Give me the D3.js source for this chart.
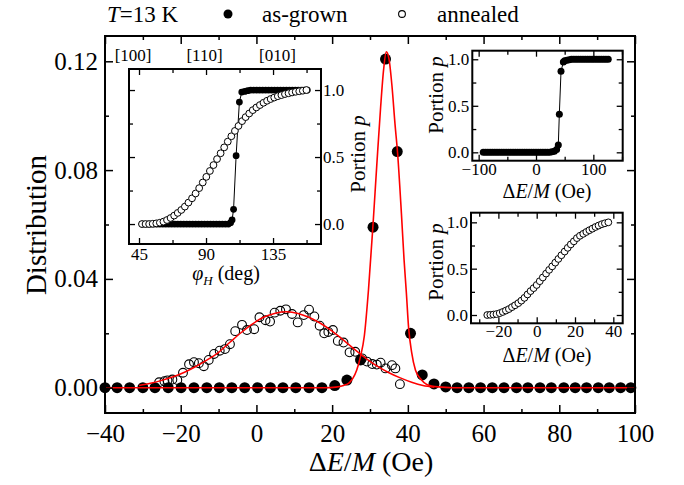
<!DOCTYPE html>
<html>
<head>
<meta charset="utf-8">
<script src="https://cdn.jsdelivr.net/npm/d3@7/dist/d3.min.js"></script>
<style>
  body { margin: 0; background: #fff; }
  svg { font-family: "Liberation Serif", "Times New Roman", serif; }
</style>
</head>
<body>
<svg id="chart" width="684" height="485"></svg>
<script>
var width = 684, height = 485;

// main plot: distribution vs dE/M
var grownX = [-40,-36.8,-33.5,-30.0,-26.8,-23.3,-19.9,-16.5,-13.1,-9.8,-6.5,-3.1,0.3,3.7,7.0,10.4,13.9,17.3,
  20.7,23.9,27.5,30.8,34.1,37.2,40.7,43.8,46.9,50.0,53.0,56.1,59.2,62.3,65.4,68.7,71.7,74.9,77.9,81.2,
  84.2,87.2,90.3,93.2,96.2,98.9];
var grownY = [0,0,0,0,0,0,0,0,0,0,0,0,0,0,0,0,0,0,
  0.0008,0.0028,0.0102,0.059,0.1208,0.0868,0.020,0.0047,0.0014,0.0003,0,0,0,0,0,0,0,0,0,0,
  0,0,0,0,0,0];

var annX = [-25.7,-24.3,-23.5,-22.2,-20.9,-19.4,-17.8,-16.5,-15.2,-13.9,-12.6,-11.2,-9.7,-8.3,-7.0,-5.6,
  -3.8,-2.5,-0.6,0.8,2.4,3.6,4.8,6.3,7.8,9.4,10.9,12.5,13.9,15.3,16.7,17.9,19.0,20.2,21.5,23.0,24.6,
  26.1,27.9,29.2,30.6,31.8,32.8,34.1,35.8,36.7,37.9];
var annY = [0.0020,0.0024,0.0027,0.0030,0.0028,0.0055,0.0086,0.0094,0.0090,0.0079,0.0102,0.0124,0.0136,
  0.0142,0.0160,0.0208,0.0231,0.0212,0.0215,0.0259,0.0248,0.0243,0.0276,0.0283,0.0288,0.0271,0.0240,
  0.0267,0.0287,0.0262,0.0228,0.0200,0.0205,0.0212,0.0172,0.0166,0.0130,0.0132,0.0108,0.0096,0.0087,
  0.0085,0.0092,0.0071,0.0083,0.0071,0.0013];

var grownFitX = [-40,18,21,23,24.5,25.5,26.5,27.5,28.5,29.6,30.8,31.8,32.8,33.6,34.3,35.0,35.8,36.6,37.3,
  38.3,39.0,39.6,40.2,41.0,42.0,43.5,45.0,48.0,52,100];
var grownFitY = [0,0,0.0002,0.0008,0.0018,0.0035,0.0065,0.0115,0.019,0.036,0.060,0.082,0.103,0.117,0.1235,
  0.121,0.111,0.097,0.086,0.064,0.047,0.035,0.022,0.013,0.0065,0.003,0.0012,0.0003,0,0];

var annFitX = [-31,-28,-25,-22,-19,-16,-13,-10,-7,-4,-1,2,5,8,11,14,17,20,23,26,29,32,35,38,41,44,47];
var annFitY = [0.0008,0.0016,0.0027,0.0040,0.0057,0.0078,0.0102,0.0130,0.0167,0.0203,0.0235,0.0260,0.0274,
  0.0279,0.0273,0.0258,0.0236,0.0208,0.0175,0.0140,0.0107,0.0078,0.0055,0.0036,0.0020,0.0008,0.0002];

var mainXTicks = [-40,-20,0,20,40,60,80,100];
var mainYTicks = [0,0.04,0.08,0.12];

// inset 1: portion p vs phi_H
var phiGrownX = [47,49,51,53,55,57,59,61,63,65,67,69,71,73,75,77,79,81,83,85,87,89,91,93,95,97,99,101,103,105,
  106.5,107.5,108.5,110.2,112.4,114,116,118,120,122,124,126,128,130,132,134,136,138,140,142,144,146,148,150,
  152,154,156,158];
var phiGrownY = [0,0,0,0,0,0,0,0,0,0,0,0,0,0,0,0,0,0,0,0,0,0,0,0,0,0,0,0,0,0,
  0.01,0.03,0.11,0.51,0.91,0.985,0.99,0.995,1,1,1,1,1,1,1,1,1,1,1,1,1,1,1,1,
  1,1,1,1];
var phiAnnX = [47,49.4,51.8,54.2,56.6,59.0,61.4,63.8,66.2,68.6,71.0,73.4,75.8,78.2,80.6,83.0,85.4,87.8,90.2,
  92.6,95.0,97.4,99.8,102.2,104.6,107.0,109.4,111.8,114.2,116.6,119.0,121.4,123.8,126.2,128.6,131.0,133.4,
  135.8,138.2,140.6,143.0,145.4,147.8,150.2,152.6,155.0,157.4];
var phiAnnY = [0,0,0,0.002,0.005,0.010,0.018,0.030,0.045,0.063,0.083,0.105,0.130,0.160,0.192,0.228,0.268,
  0.310,0.352,0.396,0.440,0.485,0.528,0.572,0.615,0.655,0.695,0.732,0.768,0.798,0.825,0.850,0.870,0.888,
  0.905,0.920,0.933,0.944,0.954,0.962,0.970,0.976,0.982,0.987,0.991,0.995,1.0];
var phiTicks = [45,90,135];
var phiDirs = ["[100]","[110]","[010]"];
var phiDirPos = [41,89,138];

// inset 2: portion p vs dE/M, as-grown
var cumGrownX = [-92,-88,-84,-80,-76,-72,-68,-64,-60,-56,-52,-48,-44,-40,-36,-32,-28,-24,-20,-16,-12,-8,-4,
  0,4,8,12,16,20,24,28,32,36,38.9,40.7,43.6,47.7,50,54,58,62,66,70,74,78,82,86,90,94,98,102,106,110,114,118,
  122,126];
var cumGrownY = [0,0,0,0,0,0,0,0,0,0,0,0,0,0,0,0,0,0,0,0,0,0,0,0,0,0,0,0,0,0.002,0.006,0.012,0.03,0.078,
  0.41,0.87,0.97,0.985,0.99,0.995,1,1,1,1,1,1,1,1,1,1,1,1,1,1,1,1,1];

// inset 3: portion p vs dE/M, annealed
var cumAnnX = [-25.8,-24.2,-22.6,-21.0,-19.3,-17.7,-16.1,-14.5,-12.9,-11.3,-9.6,-8.0,-6.4,-4.8,-3.2,-1.6,
  0.0,1.6,3.2,4.9,6.5,8.1,9.7,11.3,12.9,14.6,16.2,17.8,19.4,21.0,22.6,24.3,25.9,27.5,29.1,30.7,32.3,34.0,
  35.6,37.4];
var cumAnnY = [0.000,0.002,0.005,0.010,0.020,0.033,0.048,0.064,0.085,0.105,0.128,0.155,0.185,0.222,0.258,
  0.290,0.324,0.365,0.405,0.447,0.487,0.525,0.565,0.605,0.645,0.685,0.725,0.762,0.795,0.830,0.855,0.876,
  0.896,0.915,0.932,0.950,0.965,0.980,0.990,1.000];

var pTicks = [0,0.5,1];

var svg = d3.select('#chart');

function zip(xs, ys){ return xs.map((x,i) => [x, ys[i]]); }

// frame with inward ticks on all four sides
function frame(g, x, y, o){
  var x0 = x.range()[0], x1 = x.range()[1], y0 = y.range()[0], y1 = y.range()[1];
  var axes = [
    [d3.axisBottom, x, y0, 'x', o.xMajor, o.xMinor, o.xLabels],
    [d3.axisTop, x, y1, 'x', o.xMajor, o.xMinor, false],
    [d3.axisLeft, y, x0, 'y', o.yMajor, o.yMinor, o.yLabelSide == 'left'],
    [d3.axisRight, y, x1, 'y', o.yMajor, o.yMinor, o.yLabelSide == 'right']
  ];
  axes.forEach(a => {
    var tr = a[3] == 'x' ? 'translate(0,' + a[2] + ')' : 'translate(' + a[2] + ',0)';
    var gm = g.append('g').attr('transform', tr)
      .call(a[0](a[1]).tickValues(a[5]).tickSize(-o.minorLen).tickFormat(''));
    gm.select('.domain').remove();
    var ga = g.append('g').attr('transform', tr)
      .call(a[0](a[1]).tickValues(a[4]).tickSize(-o.majorLen).tickPadding(a[3] == 'x' ? o.xPad : o.yPad)
        .tickFormat(a[6] ? o[a[3] + 'Fmt'] : ''));
    ga.select('.domain').remove();
    g.selectAll('.tick line').attr('stroke', '#000').attr('stroke-width', o.tickW);
    ga.selectAll('text').attr('fill', '#000').style('font-size', o.fontSize + 'px')
      .style('font-family', '"Liberation Serif", serif');
  });
  g.append('rect').attr('x', x0).attr('y', y1).attr('width', x1 - x0).attr('height', y0 - y1)
    .attr('fill', 'none').attr('stroke', '#000').attr('stroke-width', o.frameW);
}

// ---------- main plot ----------
var x = d3.scaleLinear().domain([-40, 100]).range([105, 635]);
var y = d3.scaleLinear().domain([-0.0093, 0.1293]).range([413, 36]);
var main = svg.append('g');

main.append('g').selectAll('circle').data(zip(grownX, grownY)).enter().append('circle')
  .attr('cx', d => x(d[0])).attr('cy', d => y(d[1])).attr('r', 5.5).attr('fill', '#000');
main.append('g').selectAll('circle').data(zip(annX, annY)).enter().append('circle')
  .attr('cx', d => x(d[0])).attr('cy', d => y(d[1])).attr('r', 4.4)
  .attr('fill', 'none').attr('stroke', '#000').attr('stroke-width', 1.1);

var fitLine = d3.line().x(d => x(d[0])).y(d => y(d[1])).curve(d3.curveMonotoneX);
main.append('path').datum(zip(annFitX, annFitY)).attr('d', fitLine)
  .attr('fill', 'none').attr('stroke', '#ff0000').attr('stroke-width', 1.5);
main.append('path').datum(zip(grownFitX, grownFitY)).attr('d', fitLine)
  .attr('fill', 'none').attr('stroke', '#ff0000').attr('stroke-width', 1.6);

frame(main, x, y, {
  xMajor: mainXTicks, xMinor: [-30,-10,10,30,50,70,90], yMajor: mainYTicks, yMinor: [0.02,0.06,0.10],
  xLabels: true, yLabelSide: 'left', xFmt: d3.format('d'), yFmt: d3.format('.2f'),
  majorLen: 8, minorLen: 4, xPad: 11, yPad: 7, fontSize: 25, tickW: 1.5, frameW: 2
});

main.append('text').attr('transform', 'translate(46,225) rotate(-90)').attr('text-anchor', 'middle')
  .style('font-size', '29px').text('Distribution');
var xl = main.append('text').attr('x', 371).attr('y', 471).attr('text-anchor', 'middle').style('font-size', '28px');
xl.append('tspan').text('\u0394');
xl.append('tspan').style('font-style', 'italic').text('E');
xl.append('tspan').text('/');
xl.append('tspan').style('font-style', 'italic').text('M');
xl.append('tspan').text(' (Oe)');

// legend
var lg = svg.append('g').style('font-size', '23px');
var lt = lg.append('text').attr('x', 107).attr('y', 22);
lt.append('tspan').style('font-style', 'italic').text('T');
lt.append('tspan').text('=13 K');
lg.append('circle').attr('cx', 228).attr('cy', 14).attr('r', 4.5).attr('fill', '#000');
lg.append('text').attr('x', 262).attr('y', 22).text('as-grown');
lg.append('circle').attr('cx', 402).attr('cy', 14).attr('r', 3.4).attr('fill', 'none')
  .attr('stroke', '#000').attr('stroke-width', 1.1);
lg.append('text').attr('x', 437).attr('y', 22).text('annealed');

// ---------- inset 1 ----------
var x1 = d3.scaleLinear().domain([38.28, 167.2]).range([129, 321]);
var y1 = d3.scaleLinear().domain([-0.149, 1.157]).range([244, 69]);
var in1 = svg.append('g');
in1.append('rect').attr('x', 129).attr('y', 69).attr('width', 192).attr('height', 175).attr('fill', '#fff');
var ln1 = d3.line().x(d => x1(d[0])).y(d => y1(d[1]));
in1.append('path').datum(zip(phiGrownX, phiGrownY)).attr('d', ln1)
  .attr('fill', 'none').attr('stroke', '#000').attr('stroke-width', 1);
in1.append('g').selectAll('circle').data(zip(phiGrownX, phiGrownY)).enter().append('circle')
  .attr('cx', d => x1(d[0])).attr('cy', d => y1(d[1])).attr('r', 3.4).attr('fill', '#000');
in1.append('g').selectAll('circle').data(zip(phiAnnX, phiAnnY)).enter().append('circle')
  .attr('cx', d => x1(d[0])).attr('cy', d => y1(d[1])).attr('r', 3.4)
  .attr('fill', '#fff').attr('stroke', '#000').attr('stroke-width', 1);
frame(in1, x1, y1, {
  xMajor: phiTicks, xMinor: [67.5,112.5,157.5], yMajor: pTicks, yMinor: [0.25,0.75],
  xLabels: true, yLabelSide: 'right', xFmt: d3.format('d'), yFmt: d3.format('.1f'),
  majorLen: 6, minorLen: 4, xPad: 4, yPad: 2, fontSize: 17, tickW: 1.3, frameW: 2
});
in1.append('g').selectAll('text').data(phiDirs).enter().append('text')
  .attr('x', (d,i) => x1(phiDirPos[i])).attr('y', 61).attr('text-anchor', 'middle')
  .style('font-size', '17px').text(d => d);
var pl = in1.append('text').attr('x', 226).attr('y', 280).attr('text-anchor', 'middle').style('font-size', '20px');
pl.append('tspan').style('font-style', 'italic').text('\u03c6');
pl.append('tspan').style('font-style', 'italic').style('font-size', '13px').attr('dy', 5).text('H');
pl.append('tspan').attr('dy', -5).text(' (deg)');

function portionLabel(g, px, py){
  var t = g.append('text').attr('transform', 'translate(' + px + ',' + py + ') rotate(-90)')
    .attr('text-anchor', 'middle').style('font-size', '21px');
  t.append('tspan').text('Portion ');
  t.append('tspan').style('font-style', 'italic').text('p');
}
portionLabel(in1, 365, 154);

function eLabel(g, px, py){
  var t = g.append('text').attr('x', px).attr('y', py).attr('text-anchor', 'middle').style('font-size', '20px');
  t.append('tspan').text('\u0394');
  t.append('tspan').style('font-style', 'italic').text('E');
  t.append('tspan').text('/');
  t.append('tspan').style('font-style', 'italic').text('M');
  t.append('tspan').text(' (Oe)');
}

// ---------- inset 2 ----------
var x2 = d3.scaleLinear().domain([-111.1, 151.2]).range([472.3, 622.7]);
var y2 = d3.scaleLinear().domain([-0.090, 1.092]).range([160.7, 50.7]);
var in2 = svg.append('g');
in2.append('rect').attr('x', 472.3).attr('y', 50.7).attr('width', 150.4).attr('height', 110).attr('fill', '#fff');
var ln2 = d3.line().x(d => x2(d[0])).y(d => y2(d[1]));
in2.append('path').datum(zip(cumGrownX, cumGrownY)).attr('d', ln2)
  .attr('fill', 'none').attr('stroke', '#000').attr('stroke-width', 1);
in2.append('g').selectAll('circle').data(zip(cumGrownX, cumGrownY)).enter().append('circle')
  .attr('cx', d => x2(d[0])).attr('cy', d => y2(d[1])).attr('r', 3.5).attr('fill', '#000');
frame(in2, x2, y2, {
  xMajor: [-100,0,100], xMinor: [-50,50,150], yMajor: pTicks, yMinor: [0.25,0.75],
  xLabels: true, yLabelSide: 'left', xFmt: d3.format('d'), yFmt: d3.format('.1f'),
  majorLen: 6, minorLen: 4, xPad: 2, yPad: 3, fontSize: 17, tickW: 1.3, frameW: 2
});
portionLabel(in2, 443, 95);
eLabel(in2, 547, 198);

// ---------- inset 3 ----------
var x3 = d3.scaleLinear().domain([-34.3, 44.9]).range([471, 622.7]);
var y3 = d3.scaleLinear().domain([-0.0895, 1.104]).range([323.3, 212.7]);
var in3 = svg.append('g');
in3.append('rect').attr('x', 471).attr('y', 212.7).attr('width', 151.7).attr('height', 110.6).attr('fill', '#fff');
in3.append('g').selectAll('circle').data(zip(cumAnnX, cumAnnY)).enter().append('circle')
  .attr('cx', d => x3(d[0])).attr('cy', d => y3(d[1])).attr('r', 3.4)
  .attr('fill', '#fff').attr('stroke', '#000').attr('stroke-width', 1);
frame(in3, x3, y3, {
  xMajor: [-20,0,20,40], xMinor: [-30,-10,10,30], yMajor: pTicks, yMinor: [0.25,0.75],
  xLabels: true, yLabelSide: 'left', xFmt: d3.format('d'), yFmt: d3.format('.1f'),
  majorLen: 6, minorLen: 4, xPad: 2, yPad: 3, fontSize: 17, tickW: 1.3, frameW: 2
});
portionLabel(in3, 443, 262);
eLabel(in3, 547, 362);
</script>
</body>
</html>
